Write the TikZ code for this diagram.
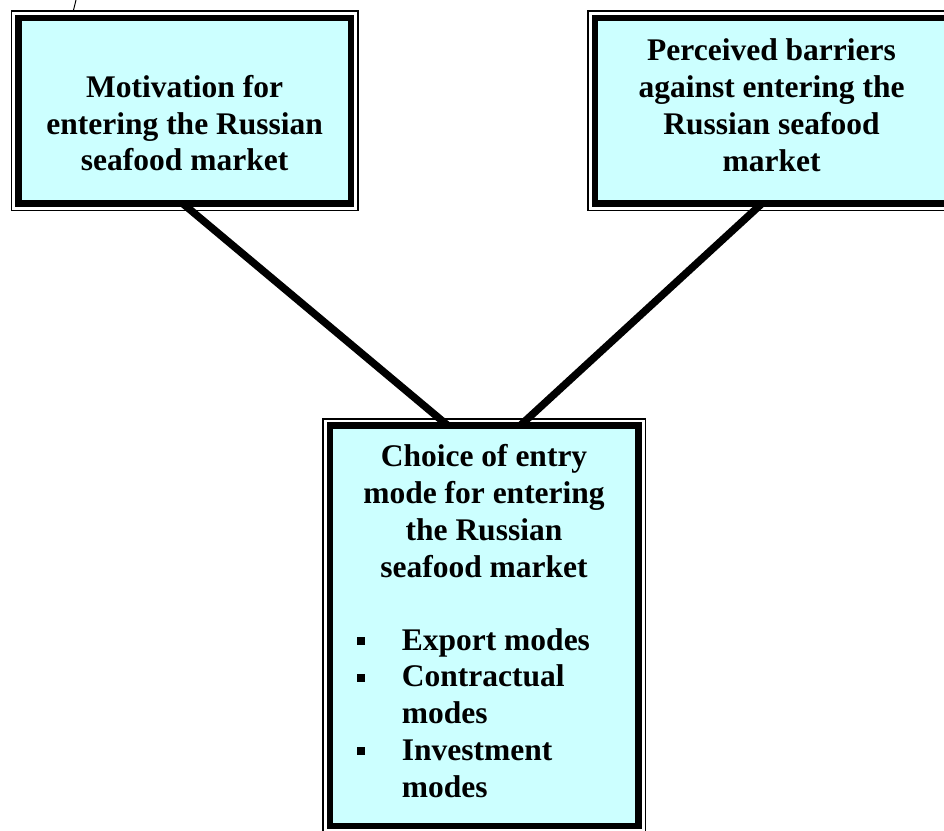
\documentclass[tikz,border=0pt]{standalone}
\usepackage{fontspec}
\setmainfont{Liberation Serif}
\usetikzlibrary{calc,backgrounds}
\definecolor{boxfill}{RGB}{204,255,255}
\tikzset{
  box/.style={draw=black, fill=boxfill, line width=6.6pt, outer sep=0pt, inner sep=0pt},
  outerframe/.style={draw=black, line width=1.6pt},
  link/.style={draw=black, line width=7.5pt},
  boxtext/.style={inner sep=0pt, anchor=base, font=\fontsize{31.5}{36.8}\selectfont\bfseries},
  bul/.style={},
}
\newcommand\mybullet{\makebox[45pt][l]{\rule[5pt]{8pt}{8pt}}}
\begin{document}
\begin{tikzpicture}[x=1pt,y=-1pt]
\useasboundingbox (0,0) rectangle (944,830);
\clip (0,0) rectangle (944,830);
\node[box, minimum width=332.7pt, minimum height=185.7pt] (mot) at (184.65,110.85) {};
\node[box, minimum width=355pt, minimum height=185.7pt] (barr) at (772.5,110.85) {};
\node[box, minimum width=308.5pt, minimum height=400.5pt] (choice) at (484.25,625.75) {};
\foreach \b in {mot,barr,choice}
  \draw[outerframe] ([shift={(-6.8pt,6.8pt)}]\b.north west) rectangle ([shift={(6.8pt,-6.8pt)}]\b.south east);
\node[boxtext] (motT) at (184.65,97.3) {\begin{tabular}[t]{@{}c@{}}Motivation for\\entering the Russian\\seafood market\end{tabular}};
\node[boxtext] (barrT) at (771.5,60.7) {\begin{tabular}[t]{@{}c@{}}Perceived barriers\\against entering the\\Russian seafood\\market\end{tabular}};
\node[boxtext] (choiceT) at (484,466.7) {\begin{tabular}[t]{@{}c@{}}Choice of entry\\mode for entering\\the Russian\\seafood market\end{tabular}};
\node[boxtext, anchor=base west] (listT) at (356.7,650) {\begin{tabular}[t]{@{}l@{}l@{}}\mybullet & Export modes\\ \mybullet & Contractual\\ & modes\\ \mybullet & Investment\\ & modes\end{tabular}};
\coordinate (tick) at (76,0);
\draw[line width=1pt] (tick) -- ($(mot.north west)+(55,-7)$);
\begin{scope}[on background layer]
\draw[link] ($(mot.south)+(-1.7,0)$) -- ($(choice.north)+(-36.5,0)$);
\draw[link] ($(barr.south)+(-10.8,0)$) -- ($(choice.north)+(36,0)$);
\end{scope}
\end{tikzpicture}
\end{document}
